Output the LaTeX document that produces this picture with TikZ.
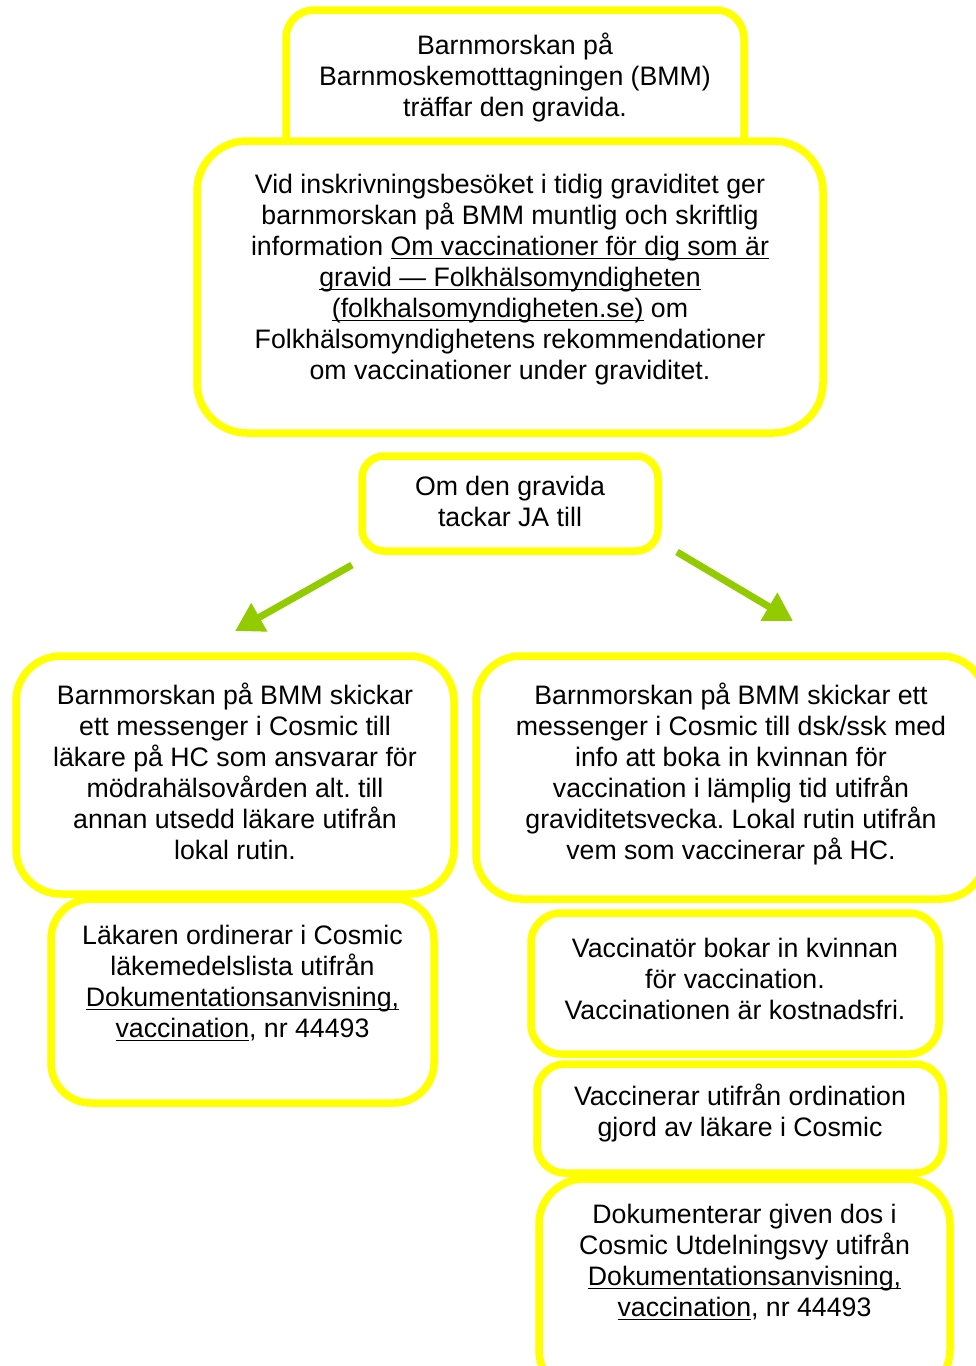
\documentclass[tikz,border=0pt]{standalone}
\usepackage{fontspec}
\setmainfont{Liberation Sans}
\usepackage{tikz}
\usetikzlibrary{arrows.meta,positioning}
\newcommand{\linkul}[1]{\setbox0\hbox{#1}\rlap{\rule[-4pt]{\wd0}{1.6pt}}\box0\relax}
\definecolor{boxyellow}{RGB}{255,255,0}
\definecolor{arrowgreen}{RGB}{146,204,0}
\frenchspacing

\begin{document}
\begin{tikzpicture}[x=1pt,y=-1pt,
    rbox/.style={draw=boxyellow,line width=7.5pt,fill=white,inner sep=0pt},
    rtext/.style={align=center,inner sep=0pt,anchor=base,font=\fontsize{26.7}{31}\selectfont},
    jaarrow/.style={draw=arrowgreen,line width=7pt,-{Triangle[width=31pt,length=28pt]}}]
    \useasboundingbox (0,0) rectangle (976,1366);
    \clip (0,0) rectangle (976,1366);
            % top part
            \node[rbox,rounded corners=28pt,minimum width=458pt,minimum height=160pt] (meet) at (515,90) {};
            \node[rtext] (meettext) at ([yshift=-110pt]meet.north) {Barnmorskan på\\Barnmoskemotttagningen (BMM)\\träffar den gravida.};
            \node[rbox,rounded corners=50pt,minimum width=626pt,minimum height=292pt] (visit) at (510,287) {};
            \node[rtext] (visittext) at ([yshift=-242pt]visit.north) {Vid inskrivningsbesöket i tidig graviditet ger\\
                barnmorskan på BMM muntlig och skriftlig\\
                information \linkul{Om vaccinationer för dig som är}\\
                \linkul{gravid — Folkhälsomyndigheten}\\
                \linkul{(folkhalsomyndigheten.se)} om\\
                Folkhälsomyndighetens rekommendationer\\
                om vaccinationer under graviditet.};
            \node[rbox,rounded corners=22pt,minimum width=296pt,minimum height=95pt] (yes) at (510,503.5) {};
            \node[rtext] (yestext) at ([yshift=-74pt]yes.north) {Om den gravida\\tackar JA till};
            % arrows
            \coordinate (lefttail) at (352,565);
            \coordinate (lefttip) at (235,631);
            \coordinate (righttail) at (677,552);
            \coordinate (righttip) at (793,621);
            \draw[jaarrow] (lefttail) -- (lefttip);
            \draw[jaarrow] (righttail) -- (righttip);
            % left column
            \node[rbox,rounded corners=45pt,minimum width=438pt,minimum height=238pt] (doctor) at (235,775) {};
            \node[rtext] (doctortext) at ([yshift=-207pt]doctor.north) {Barnmorskan på BMM skickar\\
                ett messenger i Cosmic till\\
                läkare på HC som ansvarar för\\
                mödrahälsovården alt. till\\
                annan utsedd läkare utifrån\\
                lokal rutin.};
            \node[rbox,rounded corners=40pt,minimum width=383pt,minimum height=204pt] (order) at (242.5,1001) {};
            \node[rtext] (ordertext) at ([yshift=-142pt]order.north) {Läkaren ordinerar i Cosmic\\
                läkemedelslista utifrån\\
                \linkul{Dokumentationsanvisning,}\\
                \linkul{vaccination}, nr 44493};
            % right column
            \node[rbox,rounded corners=45pt,minimum width=510pt,minimum height=243pt] (nurse) at (731,777.5) {};
            \node[rtext] (nursetext) at ([yshift=-207pt]nurse.north) {Barnmorskan på BMM skickar ett\\
                messenger i Cosmic till dsk/ssk med\\
                info att boka in kvinnan för\\
                vaccination i lämplig tid utifrån\\
                graviditetsvecka. Lokal rutin utifrån\\
                vem som vaccinerar på HC.};
            \node[rbox,rounded corners=30pt,minimum width=408pt,minimum height=141pt] (book) at (735,983.5) {};
            \node[rtext] (booktext) at ([yshift=-110pt]book.north) {Vaccinatör bokar in kvinnan\\
                för vaccination.\\
                Vaccinationen är kostnadsfri.};
            \node[rbox,rounded corners=28pt,minimum width=406pt,minimum height=109pt] (vacc) at (740,1118.5) {};
            \node[rtext] (vacctext) at ([yshift=-76pt]vacc.north) {Vaccinerar utifrån ordination\\
                gjord av läkare i Cosmic};
            \node[rbox,rounded corners=45pt,minimum width=411pt,minimum height=216pt] (record) at (744.5,1287) {};
            \node[rtext] (recordtext) at ([yshift=-141pt]record.north) {Dokumenterar given dos i\\
                Cosmic Utdelningsvy utifrån\\
                \linkul{Dokumentationsanvisning,}\\
                \linkul{vaccination}, nr 44493};
\end{tikzpicture}
\end{document}
